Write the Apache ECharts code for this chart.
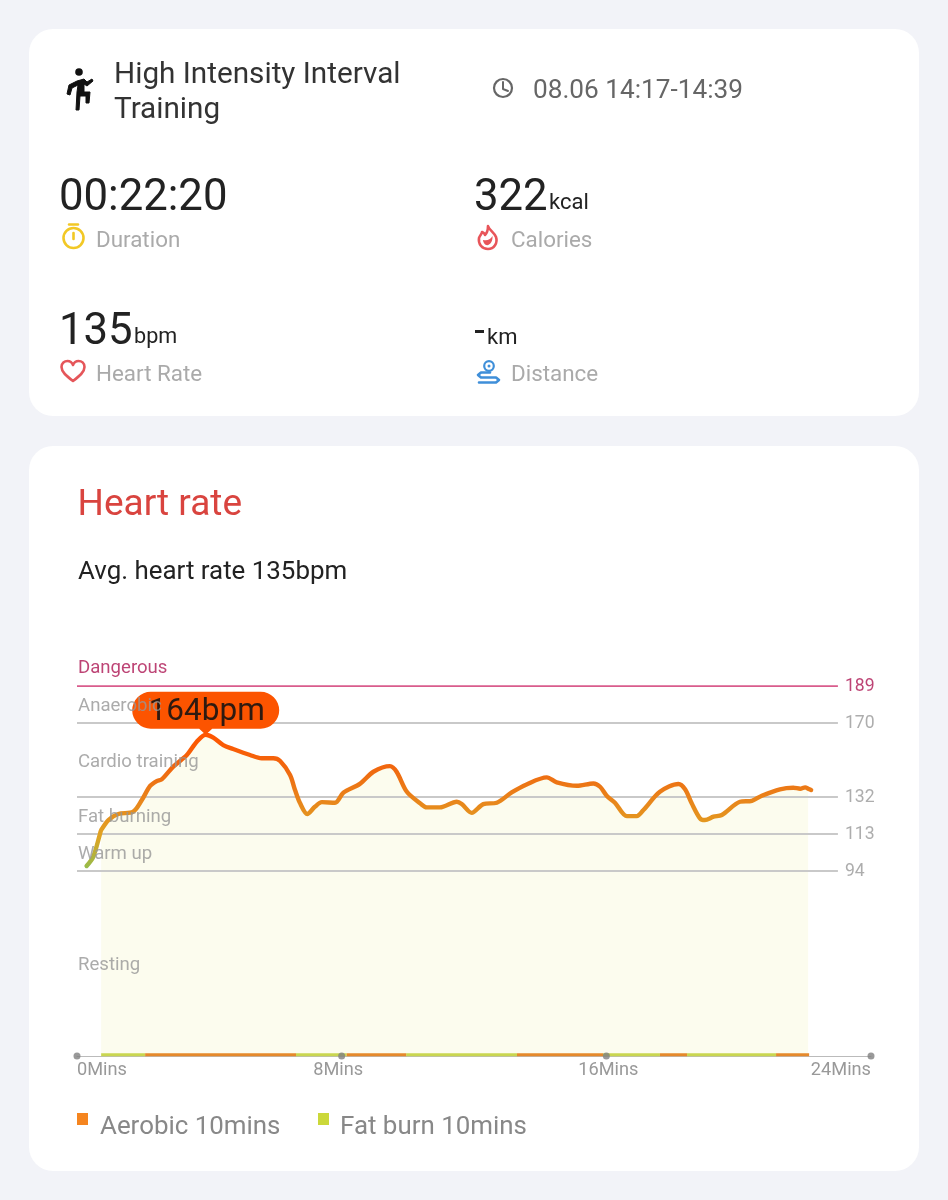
<!DOCTYPE html>
<html>
<head>
<meta charset="utf-8">
<style>html,body{margin:0;padding:0;background:#f2f3f8}#c{width:948px;height:1200px}</style>
<script src="https://cdn.jsdelivr.net/npm/echarts@6/dist/echarts.min.js"></script>
</head>
<body>
<div id="c"></div>
<script>
const minutes = [0.29,0.49,0.70,0.73,0.95,1.25,1.70,1.96,2.21,2.41,2.56,2.91,3.32,3.62,3.89,4.12,4.42,4.72,5.23,5.58,5.93,6.14,6.44,6.59,6.74,6.96,7.19,7.40,7.80,8.05,8.55,8.96,9.46,9.66,9.97,10.37,10.57,10.97,11.48,11.63,11.93,12.28,12.69,13.14,13.59,14.20,14.50,15.11,15.61,15.81,16.01,16.26,16.62,16.92,17.12,17.62,18.18,18.38,18.58,18.83,18.98,19.24,19.49,20.04,20.40,20.70,21.25,21.65,21.86,22.01,22.10,22.19];
const heartRate = [96.6,101.3,113.4,115,120.2,123.3,124.5,130.5,137.7,140.2,141.1,147.6,153.6,160.4,164,162.5,158.7,156.7,153.6,151.9,151.9,150.5,143.3,135.6,128.9,123.3,127,129.4,129.1,134.2,138.8,145,147.9,145,134.7,128.8,126.7,126.7,129.6,128.4,123.9,128.4,129.1,134.4,138.5,142.1,139.6,137.8,139,137.3,132.7,129.1,122.2,122.2,125.3,134.7,138.7,136,128.8,121.1,120.2,121.9,122.8,129.6,130.1,132.7,136,136.8,136.3,137,136.3,135.6];
const fillStart = 0.73, fillEnd = 22.10;
const thresholds = [189,170,132,113,94];
const thresholdEnd = 23;
const zoneNames = ['Dangerous','Anaerobic','Cardio training','Fat burning','Warm up','Resting'];
const zoneLabelBpm = [199,179.5,151,122.5,103.5,46.5];
const aerobicSpans = [[2.06,6.62],[8.15,9.95],[13.3,15.9],[17.62,18.44],[21.13,22.13]];
const fatBurnSpans = [[0.73,2.06],[6.62,8.15],[9.95,13.3],[15.9,17.62],[18.44,21.13]];
const peakMinute = 3.89, peakBpm = 164;
const xTicks = [0,8,16,24];
const axisFloor = -1;
const aerobicLabel = 'Aerobic 10mins', fatBurnLabel = 'Fat burn 10mins';

const FONT = 'Roboto';
const spanLine = spans => spans.flatMap(s => [[s[0],-0.4],[s[1],-0.4],[s[1],null]]);
const curve = minutes.map((m,i)=>[m,heartRate[i]]);

echarts.graphic.registerShape('flameOuter', echarts.graphic.extendPath('M10 0C11 4 16 6 18 11C20 17 16 23 10 23C4 23 0 18 1 12C2 9 4 8 4 6C6 7 7 8 7 9C9 7 10 3 10 0Z'));
echarts.graphic.registerShape('flameInner', echarts.graphic.extendPath('M5 14C9 15 12 14 14.5 10C15 15 12 20 8 19C6.5 18.5 5 16 5 14Z'));
echarts.graphic.registerShape('heartIcon', echarts.graphic.extendPath('M11.5 20C5 15 0 11 0 6C0 2 3 0 6 0C8.5 0 10.5 1.5 11.5 4C12.5 1.5 14.5 0 17 0C20 0 23 2 23 6C23 11 18 15 11.5 20Z'));
echarts.graphic.registerShape('runnerIcon', echarts.graphic.extendPath('M11 13L18 11L21 14L26 11L27 13L21 18L18 16L18 24L24 24L23 35L20 35L20 28L14 28L13 42L10 42L11 24L12 17L6 20L4 27L1 26L3 17Z'));

const T = (text,x,y,size,fill,extra) => ({type:'text',z:5,style:Object.assign({text,x,y,font:`${(extra&&extra.weight)||400} ${size}px ${FONT}`,fill,verticalAlign:'middle',align:'left'},extra||{})});
const stroke = (c,w) => ({fill:'none',stroke:c,lineWidth:w,lineCap:'round',lineJoin:'round'});

const graphics = [
  {type:'rect',z:0,shape:{x:29,y:29,width:890,height:387,r:24},style:{fill:'#fff'}},
  {type:'rect',z:0,shape:{x:29,y:446,width:890,height:725,r:24},style:{fill:'#fff'}},
  T('High Intensity Interval',114,76,29.7,'#333'),
  T('Training',114,111,29.7,'#333'),
  T('08.06 14:17-14:39',533,91,26.2,'#666'),
  T('00:22:20',59,199,43.7,'#222'),
  T('322',474,199,43.7,'#222'),
  T('kcal',549,203,22,'#222'),
  T('135',59,333,43.7,'#222'),
  T('bpm',134,338,21.6,'#222'),
  T('km',487,338,22,'#222'),
  {type:'rect',z:5,shape:{x:475,y:330,width:9,height:3},style:{fill:'#222'}},
  T('Duration',96,241,22.4,'#aaa'),
  T('Calories',511,241,22.4,'#aaa'),
  T('Heart Rate',96,375,22.4,'#aaa'),
  T('Distance',511,375,22.4,'#aaa'),
  T('Heart rate',77.5,506,37,'#d9443f'),
  T('Avg. heart rate 135bpm',78,573,25.9,'#222'),
  // legend
  {type:'rect',z:5,shape:{x:77,y:1113,width:11,height:12},style:{fill:'#f5851f'}},
  T(aerobicLabel,100,1128,25.9,'#888'),
  {type:'rect',z:5,shape:{x:318,y:1113,width:11,height:12},style:{fill:'#cbd83a'}},
  T(fatBurnLabel,340,1128,25.9,'#888'),
  // runner icon
  {type:'circle',z:5,shape:{cx:79,cy:72,r:3.8},style:{fill:'#111'}},
  {type:'runnerIcon',z:5,x:66,y:68,style:{fill:'#111',stroke:'#111',lineWidth:1}},
  // clock
  {type:'circle',z:5,shape:{cx:503,cy:88,r:9},style:stroke('#666',2.2)},
  {type:'polyline',z:5,shape:{points:[[503,82],[503,89],[508,91]]},style:stroke('#666',2)},
  // stopwatch
  {type:'circle',z:5,shape:{cx:73.5,cy:238,r:10},style:stroke('#f2c825',2.6)},
  {type:'line',z:5,shape:{x1:73.5,y1:233,x2:73.5,y2:239},style:stroke('#f2c825',2.6)},
  {type:'line',z:5,shape:{x1:69,y1:224.5,x2:78,y2:224.5},style:stroke('#f2c825',2.4)},
  // flame
  {type:'flameOuter',z:5,x:478,y:226,style:stroke('#e8555a',2.6)},
  {type:'flameInner',z:5,x:478,y:226,style:{fill:'#e8555a'}},
  // heart
  {type:'heartIcon',z:5,x:61.5,y:361,style:stroke('#e5565a',2.6)},
  // distance
  {type:'circle',z:5,shape:{cx:489,cy:366,r:4.8},style:stroke('#3f8fd9',2.2)},
  {type:'circle',z:5,shape:{cx:489,cy:366,r:1.5},style:{fill:'#3f8fd9'}},
  {type:'polyline',z:5,shape:{points:[[490,372.5],[481,372.5],[478,375],[481,377.5],[496,377.5],[499,380],[496,382.5],[479,382.5]]},style:stroke('#3f8fd9',2.6)}
];

const thresholdSeries = thresholds.map((v,i) => ({
  type:'line', silent:true, z:2, symbol:'none',
  data:[[0,v],[thresholdEnd,v]],
  lineStyle:{color:i===0?'#d95c8c':'#c9c9c9',width:i===0?1.6:2}
}));

const tickRich = {color:'#999',fontFamily:FONT,fontSize:18.2};
const option = {
  animation:false,
  backgroundColor:'#f2f3f8',
  graphic:{elements:graphics},
  grid:{left:77,width:794,top:649.1,height:406.9,containLabel:false},
  xAxis:{type:'value',min:0,max:24,interval:8,splitLine:{show:false},axisTick:{show:false},
    axisLine:{onZero:false,lineStyle:{color:'#bbb',width:1}},
    axisLabel:{formatter:v=>{
        if(!xTicks.includes(v)) return '';
        const k = v===8?'a':(v===16?'b':'c');
        return `{${k}|${v}Mins}`;
      },
      margin:5,alignMinLabel:'left',alignMaxLabel:'right',showMinLabel:true,showMaxLabel:true,
      color:'#999',fontFamily:FONT,fontSize:18.2,
      rich:{a:Object.assign({padding:[0,7,0,0]},tickRich),b:Object.assign({padding:[0,0,0,4]},tickRich),c:tickRich}}},
  yAxis:{type:'value',min:axisFloor,max:208,show:false,splitLine:{show:false}},
  visualMap:{show:false,type:'continuous',seriesIndex:1,dimension:1,min:94,max:164,
    inRange:{color:['#8fbe4e','#e0a423','#e8871c','#f0680f','#ff5500']}},
  series:[
    {type:'line',silent:true,z:1,symbol:'none',smooth:0.3,
      data:curve.filter(p=>p[0]>=fillStart&&p[0]<=fillEnd),
      lineStyle:{width:0},areaStyle:{color:'#fcfcee',opacity:1,origin:'start'}},
    {type:'line',silent:true,z:4,symbol:'none',smooth:0.3,data:curve,lineStyle:{width:4.4,cap:'round'}},
    ...thresholdSeries,
    {type:'scatter',silent:true,z:8,symbolSize:0,
      data:thresholds.map((v,i)=>({value:[thresholdEnd,v],label:{color:i===0?'#ad1553':'#999'}})),
      label:{show:true,position:'right',distance:7,offset:[0,1],formatter:p=>String(p.value[1]),fontFamily:FONT,fontSize:17.6}},
    {name:fatBurnLabel,type:'line',silent:true,z:3,symbol:'none',connectNulls:false,data:spanLine(fatBurnSpans),
      itemStyle:{color:'#cbd83a'},lineStyle:{color:'#c9d650',width:3}},
    {name:aerobicLabel,type:'line',silent:true,z:3,symbol:'none',connectNulls:false,data:spanLine(aerobicSpans),
      itemStyle:{color:'#f5851f'},lineStyle:{color:'#e5892b',width:3}},
    {type:'scatter',silent:true,z:3,symbol:'circle',symbolSize:7,data:xTicks.map(x=>[x,axisFloor]),itemStyle:{color:'#808080'}},
    {type:'scatter',silent:true,z:6,symbol:'path://M18.5 0H128.5A18.5 18.5 0 0 1 128.5 37H80L73.5 43L67 37H18.5A18.5 18.5 0 0 1 18.5 0Z',
      symbolSize:[147,43],symbolOffset:[0,'-50%'],symbolKeepAspect:false,
      data:[[peakMinute,peakBpm]],itemStyle:{color:'#fc5400',opacity:1},
      label:{show:true,position:'inside',offset:[1,-1],formatter:()=>peakBpm+'bpm',color:'#2e1a10',fontFamily:FONT,fontSize:31.5,fontWeight:400}},
    {type:'scatter',silent:true,z:8,symbolSize:0,
      data:zoneNames.map((n,i)=>({value:[0,zoneLabelBpm[i]],name:n,label:{color:i===0?'#ad1553':'#969696'}})),
      label:{show:true,position:'right',distance:1,offset:[0,2],formatter:'{b}',fontFamily:FONT,fontSize:18.6}}
  ]
};
const chart = echarts.init(document.getElementById('c'),null,{renderer:'canvas'});
chart.setOption(option);
</script>
</body>
</html>
